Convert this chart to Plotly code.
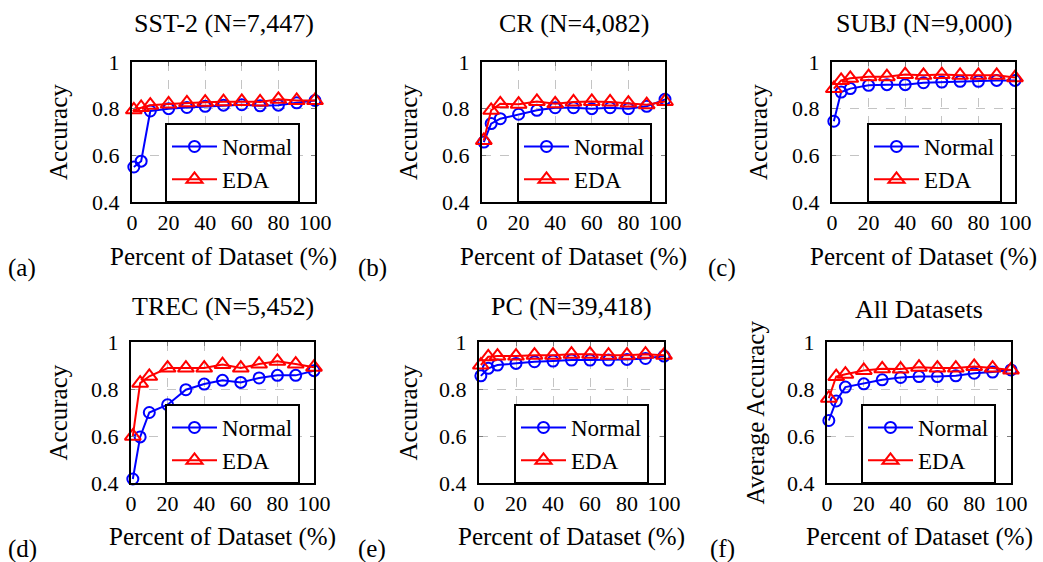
import plotly.graph_objects as go

# ---------------- data ----------------
pct = [1, 5, 10, 20, 30, 40, 50, 60, 70, 80, 90, 100]

sst2_normal = [0.550, 0.575, 0.790, 0.800, 0.805, 0.810, 0.815, 0.817, 0.812, 0.815, 0.825, 0.835]
sst2_eda = [0.795, 0.805, 0.815, 0.820, 0.825, 0.828, 0.830, 0.831, 0.829, 0.840, 0.835, 0.835]

cr_normal = [0.657, 0.736, 0.757, 0.776, 0.793, 0.804, 0.804, 0.800, 0.804, 0.800, 0.810, 0.840]
cr_eda = [0.664, 0.793, 0.821, 0.819, 0.831, 0.821, 0.829, 0.831, 0.829, 0.824, 0.817, 0.831]

subj_normal = [0.746, 0.871, 0.886, 0.900, 0.903, 0.903, 0.911, 0.914, 0.917, 0.917, 0.921, 0.921]
subj_eda = [0.886, 0.921, 0.930, 0.937, 0.937, 0.946, 0.943, 0.946, 0.943, 0.943, 0.943, 0.933]

trec_normal = [0.417, 0.596, 0.700, 0.733, 0.797, 0.821, 0.837, 0.828, 0.847, 0.858, 0.858, 0.878]
trec_eda = [0.599, 0.825, 0.854, 0.889, 0.889, 0.889, 0.904, 0.889, 0.906, 0.918, 0.906, 0.893]

pc_normal = [0.856, 0.888, 0.902, 0.909, 0.916, 0.919, 0.923, 0.923, 0.923, 0.926, 0.930, 0.940]
pc_eda = [0.902, 0.937, 0.940, 0.940, 0.944, 0.944, 0.948, 0.948, 0.944, 0.944, 0.948, 0.944]

all_normal = [0.666, 0.749, 0.808, 0.822, 0.839, 0.849, 0.853, 0.853, 0.856, 0.867, 0.872, 0.881]
all_eda = [0.761, 0.853, 0.863, 0.879, 0.886, 0.885, 0.893, 0.889, 0.889, 0.896, 0.889, 0.881]

titles = ["SST-2 (N=7,447)", "CR (N=4,082)", "SUBJ (N=9,000)",
          "TREC (N=5,452)", "PC (N=39,418)", "All Datasets"]
ylabels = ["Accuracy", "Accuracy", "Accuracy", "Accuracy", "Accuracy", "Average Accuracy"]
tags = ["(a)", "(b)", "(c)", "(d)", "(e)", "(f)"]
series_names = ["Normal", "EDA"]
xlabel = "Percent of Dataset (%)"

x_ticks = [0, 20, 40, 60, 80, 100]
x_ticktext = ["0", "20", "40", "60", "80", "100"]
y_ticks = [0.4, 0.6, 0.8, 1.0]
y_ticktext = ["0.4", "0.6", "0.8", "1"]

normal_series = [sst2_normal, cr_normal, subj_normal, trec_normal, pc_normal, all_normal]
eda_series = [sst2_eda, cr_eda, subj_eda, trec_eda, pc_eda, all_eda]

# ---------------- layout geometry (pixels) ----------------
W, H = 1043, 562
# plot frames: (left, right, top, bottom)
boxes = [
    (132, 315, 62, 202),
    (482, 665, 62, 202),
    (832, 1015, 62, 202),
    (131, 314, 342, 483),
    (479, 664, 342, 483),
    (827, 1011, 342, 483),
]
title_y = [24, 24, 24, 306, 306, 309]
ylab_x = [58, 408, 758, 58, 408, 755]
xlab_y = [257, 257, 257, 537, 537, 537]
tag_pos = [(22, 268), (372, 268), (722, 268), (22, 549), (372, 549), (722, 549)]
legend_pos = [(165, 123), (517, 123), (867, 123), (165, 404), (514, 404), (861, 404)]

FONT = "Liberation Serif, Times New Roman, Times, serif"
BLUE = "rgb(0,0,255)"
RED = "rgb(255,0,0)"


def px(x):
    return x / W


def py(y):
    return 1 - y / H


fig = go.Figure()
layout = dict(
    width=W, height=H,
    margin=dict(l=0, r=0, t=0, b=0, pad=0, autoexpand=False),
    paper_bgcolor="white", plot_bgcolor="white",
    font=dict(family=FONT, color="black", size=21),
    annotations=[],
)

for i in range(6):
    k = "" if i == 0 else str(i + 1)
    l, r, t, b = boxes[i]
    legname = "legend" + k
    fig.add_trace(go.Scatter(
        x=pct, y=normal_series[i], name=series_names[0], mode="lines+markers",
        line=dict(color=BLUE, width=2),
        marker=dict(symbol="circle-open", size=11, color=BLUE, line=dict(width=2, color=BLUE)),
        xaxis="x" + k, yaxis="y" + k, legend=legname, cliponaxis=False,
    ))
    fig.add_trace(go.Scatter(
        x=pct, y=eda_series[i], name=series_names[1], mode="lines+markers",
        line=dict(color=RED, width=2),
        marker=dict(symbol="triangle-up-open", size=14, color=RED, line=dict(width=2, color=RED)),
        xaxis="x" + k, yaxis="y" + k, legend=legname, cliponaxis=False,
    ))
    common = dict(
        showline=True, linecolor="black", linewidth=2, mirror="allticks",
        ticks="inside", ticklen=4, tickcolor="#7f7f7f", tickwidth=1,
        showgrid=True, gridcolor="#c4c4c4", gridwidth=1, griddash="dash",
        zeroline=False, tickfont=dict(family=FONT, size=22, color="black"),
        automargin=False,
    )
    layout["xaxis" + k] = dict(
        common, domain=[px(l), px(r)], range=[0, 100],
        tickmode="array", tickvals=x_ticks, ticktext=x_ticktext,
        anchor="y" + k, ticklabelstandoff=0,
    )
    layout["yaxis" + k] = dict(
        common, domain=[py(b), py(t)], range=[0.4, 1.0],
        tickmode="array", tickvals=y_ticks, ticktext=y_ticktext,
        anchor="x" + k, ticklabelstandoff=6,
    )
    lx, ly = legend_pos[i]
    layout[legname] = dict(
        x=px(lx), y=py(ly), xanchor="left", yanchor="top",
        bgcolor="white", bordercolor="black", borderwidth=2,
        font=dict(family=FONT, size=23, color="black"),
        itemwidth=45, tracegroupgap=0,
    )
    cx = (l + r) / 2
    layout["annotations"].append(dict(
        text=titles[i], x=px(cx), y=py(title_y[i]), xref="paper", yref="paper",
        xanchor="center", yanchor="middle", showarrow=False,
        font=dict(family=FONT, size=26, color="black"),
    ))
    layout["annotations"].append(dict(
        text=ylabels[i], x=px(ylab_x[i]), y=py((t + b) / 2), xref="paper", yref="paper",
        xanchor="center", yanchor="middle", showarrow=False, textangle=-90,
        font=dict(family=FONT, size=25, color="black"),
    ))
    layout["annotations"].append(dict(
        text=xlabel, x=px(cx), y=py(xlab_y[i]), xref="paper", yref="paper",
        xanchor="center", yanchor="middle", showarrow=False,
        font=dict(family=FONT, size=25, color="black"),
    ))
    tx, ty = tag_pos[i]
    layout["annotations"].append(dict(
        text=tags[i], x=px(tx), y=py(ty), xref="paper", yref="paper",
        xanchor="center", yanchor="middle", showarrow=False,
        font=dict(family=FONT, size=25, color="black"),
    ))

fig.update_layout(**layout)
fig.write_html(
    "out.html",
    config={"displayModeBar": False},
    post_script="document.body.style.margin='0px';document.body.style.overflow='hidden';",
)
